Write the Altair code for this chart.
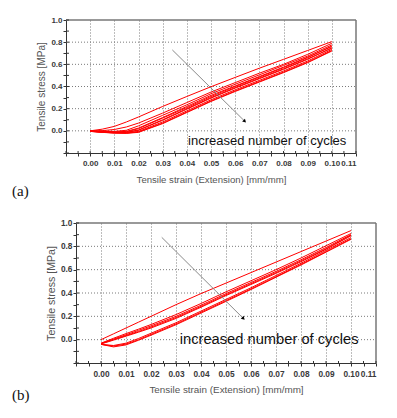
import altair as alt
import pandas as pd

# ---------------- data ----------------
strain = [0.0, 0.005, 0.01, 0.015, 0.02, 0.03, 0.04, 0.05, 0.06, 0.07, 0.08, 0.09, 0.10]

# panel (a) curves: stress [MPa] at each strain point
a_curves = {
    "load1":   [0.0, 0.015, 0.04, 0.08, 0.125, 0.22, 0.31, 0.398, 0.482, 0.565, 0.645, 0.725, 0.805],
    "unload1": [0.0, 0.002, 0.012, 0.035, 0.07, 0.16, 0.255, 0.35, 0.435, 0.52, 0.60, 0.69, 0.79],
    "load2":   [0.0, -0.003, -0.005, 0.005, 0.045, 0.14, 0.235, 0.335, 0.42, 0.505, 0.59, 0.675, 0.775],
    "unload2": [-0.002, -0.008, -0.012, -0.008, 0.02, 0.115, 0.21, 0.31, 0.40, 0.485, 0.57, 0.66, 0.765],
    "load3":   [-0.002, -0.006, -0.01, -0.005, 0.025, 0.12, 0.22, 0.32, 0.405, 0.49, 0.575, 0.665, 0.76],
    "unload3": [-0.003, -0.01, -0.015, -0.015, 0.005, 0.095, 0.195, 0.295, 0.385, 0.47, 0.555, 0.645, 0.75],
    "load4":   [-0.003, -0.01, -0.014, -0.014, 0.008, 0.10, 0.20, 0.30, 0.39, 0.475, 0.56, 0.65, 0.745],
    "unload4": [-0.004, -0.012, -0.018, -0.02, -0.005, 0.08, 0.18, 0.28, 0.37, 0.455, 0.54, 0.63, 0.735],
    "load5":   [-0.005, -0.013, -0.019, -0.021, -0.01, 0.07, 0.17, 0.27, 0.36, 0.445, 0.53, 0.62, 0.725],
    "unload5": [-0.005, -0.014, -0.02, -0.022, -0.014, 0.065, 0.165, 0.265, 0.355, 0.44, 0.525, 0.615, 0.72],
}

# panel (b) curves
b_curves = {
    "load1": [0.0, 0.05, 0.10, 0.15, 0.20, 0.30, 0.395, 0.485, 0.575, 0.665, 0.755, 0.845, 0.935],
    "u1":    [-0.03, 0.012, 0.052, 0.09, 0.13, 0.215, 0.31, 0.41, 0.505, 0.60, 0.70, 0.805, 0.91],
    "u2":    [-0.032, 0.005, 0.042, 0.08, 0.118, 0.20, 0.295, 0.395, 0.49, 0.585, 0.685, 0.79, 0.90],
    "u3":    [-0.035, 0.0, 0.035, 0.07, 0.108, 0.19, 0.285, 0.385, 0.48, 0.575, 0.675, 0.78, 0.895],
    "u4":    [-0.037, -0.004, 0.03, 0.064, 0.1, 0.182, 0.278, 0.378, 0.473, 0.568, 0.668, 0.775, 0.89],
    "l1":    [-0.04, -0.05, -0.03, 0.01, 0.055, 0.145, 0.245, 0.345, 0.445, 0.55, 0.655, 0.765, 0.875],
    "l2":    [-0.04, -0.055, -0.038, 0.0, 0.045, 0.135, 0.235, 0.335, 0.435, 0.54, 0.645, 0.755, 0.865],
    "l3":    [-0.04, -0.062, -0.045, -0.005, 0.038, 0.128, 0.228, 0.328, 0.43, 0.535, 0.64, 0.75, 0.86],
}

x_tick_values = [-0.01, -0.005, 0.0, 0.005, 0.01, 0.015, 0.02, 0.025, 0.03, 0.035, 0.04, 0.045,
                 0.05, 0.055, 0.06, 0.065, 0.07, 0.075, 0.08, 0.085, 0.09, 0.095, 0.10, 0.105, 0.11]
y_tick_values = [-0.2, -0.1, 0.0, 0.1, 0.2, 0.3, 0.4, 0.5, 0.6, 0.7, 0.8, 0.9, 1.0]
y_grid_values = [0.0, 0.2, 0.4, 0.6, 0.8]

# arrows (strain, stress) start -> end
a_arrow = {"x": [0.034, 0.0638], "y": [0.73, 0.09]}
b_arrow = {"x": [0.0243, 0.0568], "y": [0.877, 0.185]}

annotation = "increased number of cycles"
a_note_pos = (0.0405, -0.088)
b_note_pos = (0.0315, 0.0)

x_title = "Tensile strain (Extension) [mm/mm]"
y_title = "Tensile stress [MPa]"


def curves_df(curves):
    rows = []
    for name, vals in curves.items():
        for i, (s, v) in enumerate(zip(strain, vals)):
            rows.append({"curve": name, "strain": s, "stress": v, "i": i})
    return pd.DataFrame(rows)


x_label_expr = ("datum.value > -0.001 && abs(datum.value*100 - round(datum.value*100)) < 0.01"
                " ? format(datum.value, '.2f') : ''")
y_label_expr = ("datum.value > -0.05 && round(datum.value*10) % 2 == 0"
                " ? format(datum.value, '.1f') : ''")
x_grid_test = ("datum.value > -0.001 && datum.value < 0.105 && "
               "abs(datum.value*100 - round(datum.value*100)) < 0.01")

GRID = "#7a7a7a"
FRAME = "#777"


def panel(curves, arrow, note_pos, note_size, label, label_dy,
          w, h, shift, xts, yts, lab_size):
    # shift: pixels between the group origin and the left edge of the plot frame
    df = curves_df(curves)
    W = w + shift
    xs = alt.Scale(domain=[-0.01, 0.11], nice=False, zero=False, range=[shift, W])
    ys = alt.Scale(domain=[-0.2, 1.0], nice=False, zero=False)
    xaxis = alt.Axis(values=x_tick_values, labelExpr=x_label_expr, title=x_title,
                     tickCount=200, labelOverlap=False, labelBound=False,
                     gridOpacity=alt.condition(x_grid_test, alt.value(1), alt.value(0)),
                     grid=True, gridDash=[1, 2], gridColor=GRID,
                     tickSize=3, labelPadding=3, titlePadding=xts[0],
                     labelFontSize=lab_size, titleFontSize=xts[1])
    yaxis = alt.Axis(values=y_tick_values, labelExpr=y_label_expr, title=y_title,
                     tickCount=200, labelOverlap=False, labelBound=False,
                     grid=False, offset=-shift,
                     tickSize=3, labelPadding=1, titlePadding=yts[0],
                     labelFontSize=lab_size, titleFontSize=yts[1])

    lines = alt.Chart(df).mark_line(color="#ff0000", strokeWidth=1).encode(
        x=alt.X("strain:Q", scale=xs, axis=xaxis),
        y=alt.Y("stress:Q", scale=ys, axis=yaxis),
        detail="curve:N",
        order="i:Q",
    )

    ygrid = alt.Chart(pd.DataFrame({"v": y_grid_values})).mark_rule(
        color=GRID, strokeDash=[1, 2], strokeWidth=1
    ).encode(y=alt.Y("v:Q", scale=ys), x=alt.value(shift), x2=alt.value(W))

    frame_top = alt.Chart(pd.DataFrame({"v": [1.0]})).mark_rule(
        color=FRAME, strokeWidth=1.5
    ).encode(y=alt.Y("v:Q", scale=ys), x=alt.value(shift), x2=alt.value(W))
    frame_right = alt.Chart(pd.DataFrame({"v": [0.11]})).mark_rule(
        color=FRAME, strokeWidth=1.5
    ).encode(x=alt.X("v:Q", scale=xs), y=alt.value(0), y2=alt.value(h))

    xt = alt.Chart(pd.DataFrame({"v": x_tick_values})).mark_rule(color="#333").encode(
        x=alt.X("v:Q", scale=xs), y=alt.value(h), y2=alt.value(h - 2))
    yt = alt.Chart(pd.DataFrame({"v": y_tick_values})).mark_rule(color="#333").encode(
        y=alt.Y("v:Q", scale=ys), x=alt.value(shift), x2=alt.value(shift + 3))

    adf = pd.DataFrame({"x": arrow["x"], "y": arrow["y"], "o": [0, 1]})
    aline = alt.Chart(adf).mark_line(color="#8a8a8a", strokeWidth=1).encode(
        x=alt.X("x:Q", scale=xs), y=alt.Y("y:Q", scale=ys), order="o:Q")
    ahead = alt.Chart(adf.iloc[[1]]).mark_point(
        shape="triangle", angle=135, filled=True, color="black", size=16, opacity=1
    ).encode(x=alt.X("x:Q", scale=xs), y=alt.Y("y:Q", scale=ys))

    ndf = pd.DataFrame({"x": [note_pos[0]], "y": [note_pos[1]], "t": [annotation]})
    note = alt.Chart(ndf).mark_text(
        align="left", baseline="middle", font="Liberation Sans",
        fontSize=note_size, color="#111"
    ).encode(x=alt.X("x:Q", scale=xs), y=alt.Y("y:Q", scale=ys), text="t:N")

    ldf = pd.DataFrame({"t": [label]})
    lab = alt.Chart(ldf).mark_text(
        align="left", baseline="middle", font="Liberation Serif", fontSize=15, color="#111"
    ).encode(x=alt.value(-54), y=alt.value(label_dy), text="t:N")

    return alt.layer(ygrid, lines, frame_top, frame_right, xt, yt, aline, ahead, note, lab
                     ).properties(width=W, height=h)


pa = panel(a_curves, a_arrow, a_note_pos, 13, "(a)", 171, 290, 133, 0, (7, 9.6), (4, 10), 8)
pb = panel(b_curves, b_arrow, b_note_pos, 14.7, "(b)", 172, 300, 140, 10, (7, 9.9), (4, 10.6), 8.3)

chart = alt.vconcat(pa, pb, spacing=19).resolve_scale(
    x="independent", y="independent"
).properties(
    padding={"left": 4, "top": 8, "right": 4, "bottom": 4}
).configure_view(
    stroke=None
).configure_axis(
    domainColor="#333", tickColor="#333", labelColor="#3a3a3a",
    labelFont="Liberation Sans", labelFontWeight="bold",
    titleFont="Liberation Sans", titleFontWeight="normal", titleColor="#555",
)

chart.save("out.html", embed_options={"renderer": "svg", "actions": False})
